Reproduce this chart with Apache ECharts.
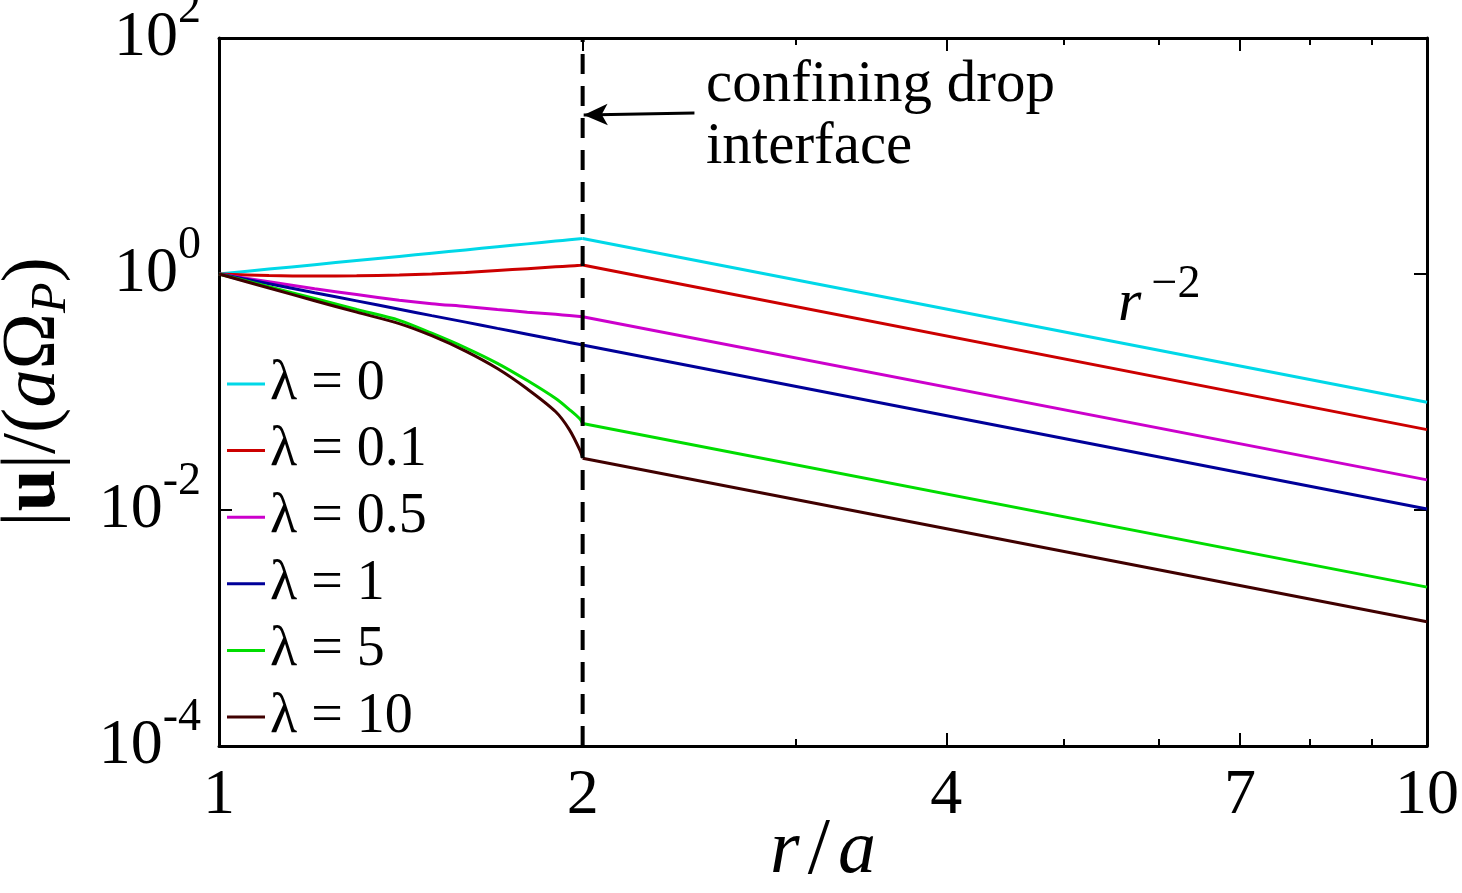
<!DOCTYPE html>
<html>
<head>
<meta charset="utf-8">
<title>velocity magnitude vs r/a</title>
<script src="https://cdn.jsdelivr.net/npm/echarts@6/dist/echarts.min.js"></script>
<style>
  html, body { margin: 0; padding: 0; background: #fff; }
  #chart { width: 1462px; height: 893px; }
</style>
</head>
<body>
<div id="chart"></div>
<script>
// r/a sample points inside the confining drop, and outside it (r^-2 decay)
var rInner = [1, 1.1, 1.2, 1.3, 1.41, 1.5, 1.6, 1.7, 1.8, 1.9, 1.95, 1.99, 2];
var rOuter = [2, 10];

// |u|/(a Omega_P), inner and outer part per viscosity ratio
var lam0In   = [1, 1.1, 1.2, 1.3, 1.41, 1.5, 1.6, 1.7, 1.8, 1.9, 1.95, 1.99, 2.0];
var lam0Out  = [2.0, 0.082];
var lam01In  = [1, 0.97, 0.96, 0.965, 0.98, 1.0, 1.03, 1.07, 1.11, 1.15, 1.17, 1.185, 1.19];
var lam01Out = [1.19, 0.048];
var lam05In  = [1, 0.86, 0.75, 0.67, 0.60, 0.56, 0.53, 0.50, 0.475, 0.455, 0.445, 0.437, 0.435];
var lam05Out = [0.435, 0.018];
var lam1In   = [1, 0.826, 0.694, 0.592, 0.503, 0.444, 0.391, 0.346, 0.309, 0.277, 0.263, 0.2525, 0.25];
var lam1Out  = [0.25, 0.0102];
var lam5In   = [1, 0.78, 0.62, 0.50, 0.405, 0.315, 0.237, 0.175, 0.125, 0.088, 0.071, 0.059, 0.054];
var lam5Out  = [0.054, 0.00222];
var lam10In  = [1, 0.76, 0.594, 0.475, 0.38, 0.30, 0.222, 0.158, 0.106, 0.068, 0.048, 0.032, 0.0275];
var lam10Out = [0.0275, 0.00113];

var seriesNames = ['λ = 0', 'λ = 0.1', 'λ = 0.5', 'λ = 1', 'λ = 5', 'λ = 10'];
var innerVals = [lam0In, lam01In, lam05In, lam1In, lam5In, lam10In];
var outerVals = [lam0Out, lam01Out, lam05Out, lam1Out, lam5Out, lam10Out];
var colors    = ['#00d8e8', '#cc0000', '#cc00cc', '#000099', '#00dd00', '#400000'];

// tick positions
var xLabelTicks = [1, 2, 4, 7, 10];
var xMajorTicks = [2, 4, 7];
var xMinorTicks = [3, 5, 6, 8, 9];
var yLabelTicks = [1e-4, 1e-2, 1, 100];
var yMajorTicks = [1e-2, 1];

var interfaceR = 2;

var FONT = '"Liberation Serif", "Times New Roman", serif';

var chart = echarts.init(document.getElementById('chart'));

function pairs(xs, ys) {
    var out = [];
    for (var i = 0; i < xs.length; i++) out.push([xs[i], ys[i]]);
    return out;
}

function xAxisDef(pos, ticks, len, withLabels) {
    return {
        type: 'log',
        logBase: 10,
        min: 1,
        max: 10,
        position: pos,
        gridIndex: 0,
        axisLine: { show: withLabels !== null, lineStyle: { color: '#000', width: 3 } },
        axisTick: { show: true, inside: true, length: len, customValues: ticks,
                    lineStyle: { color: '#000', width: 2 } },
        axisLabel: withLabels ? {
            show: true,
            customValues: xLabelTicks,
            color: '#000',
            fontFamily: FONT,
            fontSize: 64,
            margin: 18,
            formatter: function (v) { return String(Math.round(v)); }
        } : { show: false },
        splitLine: { show: false },
        minorTick: { show: false }
    };
}

var xAxes = [
    xAxisDef('bottom', xMajorTicks, 13, true),
    xAxisDef('bottom', xMinorTicks, 7, null),
    xAxisDef('top', xMajorTicks, 13, false),
    xAxisDef('top', xMinorTicks, 7, null)
];
xAxes[0].name = '{i|r}{sl|/}{i|a}';
xAxes[0].nameLocation = 'middle';
xAxes[0].nameGap = 66;
xAxes[0].nameMoveOverlap = false;
xAxes[0].nameTextStyle = {
    color: '#000', fontFamily: FONT, fontSize: 76,
    rich: {
        i: { fontFamily: FONT, fontSize: 76, fontStyle: 'italic', color: '#000' },
        sl: { fontFamily: FONT, fontSize: 80, color: '#000', padding: [0, 8, 0, 8] }
    }
};

function yAxisDef(pos, withLabels) {
    return {
        type: 'log',
        logBase: 10,
        min: 1e-4,
        max: 100,
        position: pos,
        axisLine: { show: true, lineStyle: { color: '#000', width: 3 } },
        axisTick: { show: true, inside: true, length: 13, customValues: yMajorTicks,
                    lineStyle: { color: '#000', width: 2 } },
        axisLabel: withLabels ? {
            show: true,
            customValues: yLabelTicks,
            margin: 18,
            formatter: function (v) {
                var e = Math.round(Math.log(v) / Math.LN10);
                return '{b|10}{s|' + e + '}';
            },
            rich: {
                b: { fontFamily: FONT, fontSize: 64, color: '#000', lineHeight: 64 },
                s: { fontFamily: FONT, fontSize: 46, color: '#000', lineHeight: 46,
                     padding: [0, 0, 56, 0] }
            }
        } : { show: false },
        splitLine: { show: false }
    };
}

var yAxes = [yAxisDef('left', true), yAxisDef('right', false)];
yAxes[0].name = '|{b|u}|/({i|a}Ω{sub|P})';
yAxes[0].nameLocation = 'middle';
yAxes[0].nameRotate = 90;
yAxes[0].nameGap = 142;
yAxes[0].nameMoveOverlap = false;
yAxes[0].nameTextStyle = {
    color: '#000', fontFamily: FONT, fontSize: 76,
    rich: {
        b: { fontFamily: FONT, fontSize: 76, fontWeight: 'bold', color: '#000' },
        i: { fontFamily: FONT, fontSize: 76, fontStyle: 'italic', color: '#000' },
        sub: { fontFamily: FONT, fontSize: 50, fontStyle: 'italic', color: '#000',
               padding: [36, 0, 0, 0] }
    }
};

var series = [];
for (var k = 0; k < seriesNames.length; k++) {
    // inside the drop: smooth curve
    series.push({
        name: seriesNames[k],
        type: 'line',
        data: pairs(rInner, innerVals[k]),
        showSymbol: false,
        symbol: 'none',
        smooth: 0.3,
        color: colors[k],
        lineStyle: { color: colors[k], width: 3 },
        z: 3
    });
    // outside the drop: straight r^-2 decay
    series.push({
        name: seriesNames[k],
        type: 'line',
        data: pairs(rOuter, outerVals[k]),
        showSymbol: false,
        symbol: 'none',
        color: colors[k],
        lineStyle: { color: colors[k], width: 3 },
        z: 3
    });
}

// confining drop interface (dashed vertical line)
series.push({
    name: 'interface',
    type: 'line',
    data: [[interfaceR, 1e-4], [interfaceR, 100]],
    symbol: 'none',
    silent: true,
    lineStyle: { color: '#000', width: 4, type: [20, 12] },
    z: 5
});

// text annotations + arrow
series.push({
    name: 'notes',
    type: 'scatter',
    symbolSize: 0,
    silent: true,
    itemStyle: { opacity: 1 },
    data: [
        {
            value: [2.53, 21.5],
            label: {
                show: true, position: 'right', distance: 0,
                formatter: 'confining drop\ninterface',
                color: '#000', fontFamily: FONT, fontSize: 59, lineHeight: 62, align: 'left'
            }
        },
        {
            value: [5.55, 0.55],
            label: {
                show: true, position: 'right', distance: 0,
                formatter: '{r|r}{s|−2}',
                rich: {
                    r: { fontFamily: FONT, fontSize: 60, fontStyle: 'italic', color: '#000', lineHeight: 60 },
                    s: { fontFamily: FONT, fontSize: 46, color: '#000', lineHeight: 46,
                         padding: [0, 0, 40, 10] }
                }
            }
        }
    ],
    markLine: {
        silent: true,
        symbol: ['none', 'arrow'],
        symbolSize: [16, 24],
        label: { show: false },
        lineStyle: { color: '#000', width: 3, type: 'solid', opacity: 1 },
        data: [[{ coord: [2.475, 23.1] }, { coord: [2.004, 22.3] }]]
    },
    z: 6
});

var option = {
    backgroundColor: '#fff',
    animation: false,
    grid: { left: 219, right: 35, top: 38, bottom: 147, outerBoundsMode: 'none', containLabel: false },
    legend: {
        data: seriesNames,
        orient: 'vertical',
        left: 227,
        top: 356,
        padding: 0,
        itemWidth: 38,
        itemHeight: 3,
        itemGap: 10.6,
        icon: 'rect',
        selectedMode: false,
        textStyle: { color: '#000', fontFamily: FONT, fontSize: 56, lineHeight: 55 }
    },
    xAxis: xAxes,
    yAxis: yAxes,
    series: series
};

chart.setOption(option);
</script>
</body>
</html>
